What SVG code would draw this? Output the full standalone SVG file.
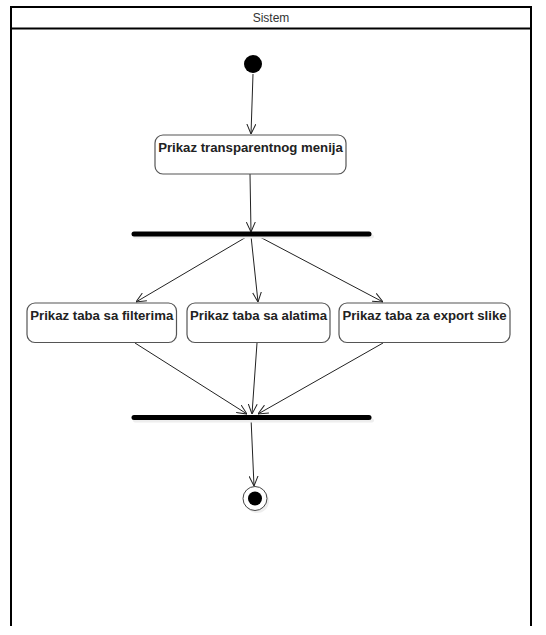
<svg xmlns="http://www.w3.org/2000/svg" width="546" height="635" viewBox="0 0 546 635">
<style>
.frame{fill:none;stroke:#000;stroke-width:2}
.act{fill:#fff;stroke:#555;stroke-width:1.2}
.lbl{font-family:"Liberation Sans",Arial,sans-serif;font-size:13.2px;font-weight:bold;fill:#222;text-anchor:middle}
.ttl{font-family:"Liberation Sans",Arial,sans-serif;font-size:12px;fill:#333;text-anchor:middle}
.bar{stroke:#000;stroke-width:5;stroke-linecap:round}
.edge{stroke:#222;stroke-width:1;fill:none;marker-end:url(#arr)}
</style>
<defs>
<marker id="arr" viewBox="0 0 10 10" refX="10" refY="5" markerWidth="10" markerHeight="10" markerUnits="userSpaceOnUse" orient="auto">
<path d="M0,0.5 L10,5 L0,9.5" fill="none" stroke="#222" stroke-width="1"/>
</marker>
</defs>
<rect width="546" height="635" fill="#fff"/>
<g id="frame">
<path class="frame" d="M11,626 V7 H531 V626"/>
<line class="frame" x1="11" y1="28.5" x2="531" y2="28.5"/>
<text class="ttl" x="271" y="22">Sistem</text>
</g>
<g id="connectors">
<line class="edge" x1="253" y1="74" x2="251" y2="134"/>
<line class="edge" x1="250" y1="174" x2="251" y2="232"/>
<line class="edge" x1="248" y1="236" x2="136" y2="302"/>
<line class="edge" x1="251" y1="236" x2="258" y2="302"/>
<line class="edge" x1="258" y1="236" x2="383" y2="302"/>
<line class="edge" x1="135" y1="343" x2="247" y2="414"/>
<line class="edge" x1="257" y1="343" x2="252" y2="414"/>
<line class="edge" x1="383" y1="343" x2="258" y2="414"/>
<line class="edge" x1="251" y1="418" x2="254" y2="486"/>
</g>
<g id="start">
<circle cx="253" cy="64" r="9" fill="#000"/>
</g>
<g id="a1">
<rect class="act" x="155" y="135" width="191" height="39" rx="8"/>
<text class="lbl" x="250.5" y="152">Prikaz transparentnog menija</text>
</g>
<g id="fork">
<line x1="135" y1="236.5" x2="372" y2="236.5" stroke="#eee" stroke-width="4" stroke-linecap="round"/>
<line class="bar" x1="134" y1="234" x2="369" y2="234"/>
</g>
<g id="a2">
<rect class="act" x="27" y="303" width="149.5" height="39.5" rx="8"/>
<text class="lbl" x="101.75" y="320">Prikaz taba sa filterima</text>
</g>
<g id="a3">
<rect class="act" x="187" y="303" width="143" height="39.5" rx="8"/>
<text class="lbl" x="258.5" y="320">Prikaz taba sa alatima</text>
</g>
<g id="a4">
<rect class="act" x="339" y="303" width="171" height="39.5" rx="8"/>
<text class="lbl" x="424.5" y="320">Prikaz taba za export slike</text>
</g>
<g id="join">
<line x1="135" y1="420.5" x2="372" y2="420.5" stroke="#eee" stroke-width="4" stroke-linecap="round"/>
<line class="bar" x1="134" y1="417.5" x2="369" y2="417.5"/>
</g>
<g id="end">
<circle cx="257" cy="501" r="12" fill="#eee"/>
<circle cx="255" cy="498.5" r="12" fill="#fff" stroke="#444" stroke-width="1"/>
<circle cx="255" cy="498.5" r="7" fill="#000"/>
</g>
</svg>
